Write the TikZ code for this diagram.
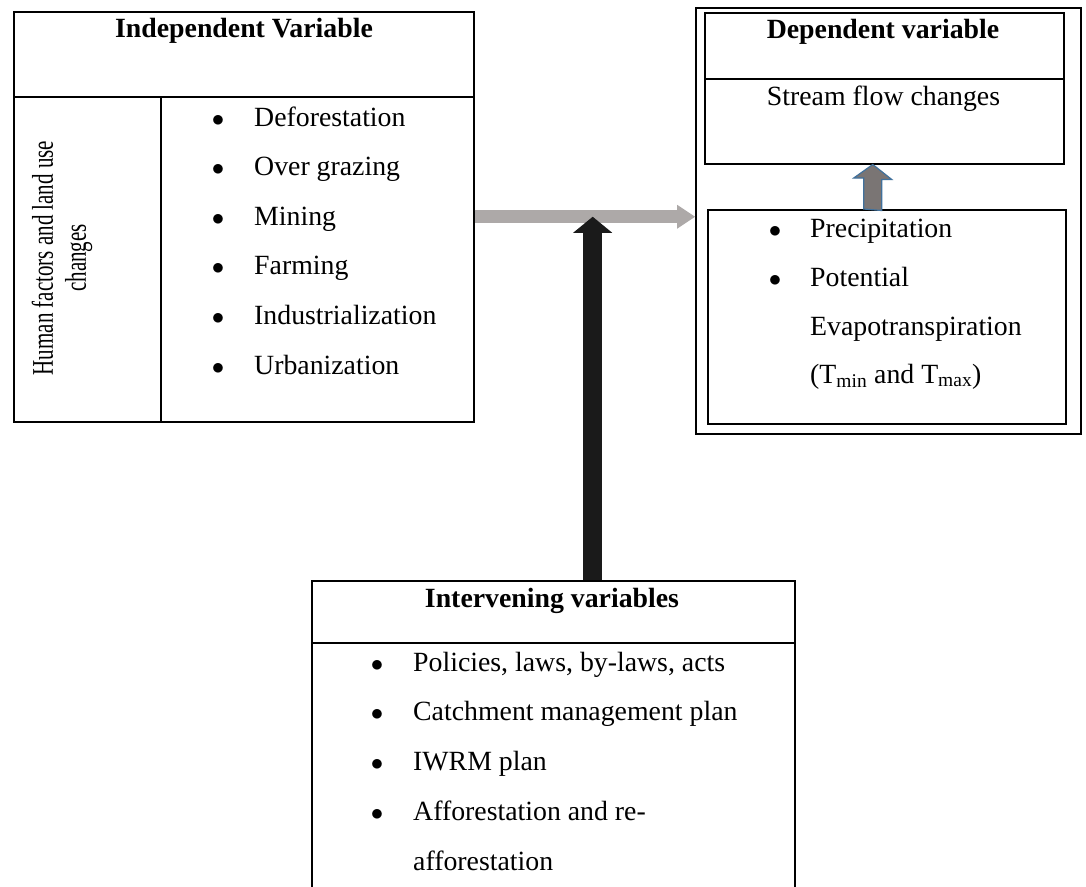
\documentclass[tikz,border=0pt]{standalone}
\usepackage{fontspec}
\setmainfont{Liberation Serif}
\usepackage{graphicx}
\usetikzlibrary{arrows.meta, positioning, calc}
\definecolor{flowgrey}{RGB}{173,169,168}
\definecolor{pushblack}{RGB}{26,26,26}
\definecolor{climgrey}{RGB}{122,117,116}
\definecolor{climblue}{RGB}{65,113,156}
\newcommand{\figsize}{\fontsize{27.8}{33}\selectfont}
\newcommand{\narrowtxt}[1]{\scalebox{0.70}[1]{#1}}
\tikzset{
  frame/.style={draw=black, line width=1.5pt, inner sep=0pt, anchor=north west},
  rule/.style={draw=black, line width=1.5pt},
  title/.style={font=\figsize\bfseries, inner sep=0pt, anchor=base},
  item/.style={inner sep=0pt, anchor=base west},
  dot/.style={inner sep=0pt, anchor=base},
  flowarrow/.style={draw=flowgrey, line width=13pt, -{Triangle[length=18pt, width=24pt, line width=0pt]}},
  pusharrow/.style={draw=pushblack, line width=19pt, -{Triangle[length=16pt, width=39pt, line width=0pt]}},
  climarrow/.style={draw=climblue, fill=climgrey, line width=1.2pt, line join=miter}
}

\begin{document}
\begin{tikzpicture}[x=1pt, y=-1pt, font=\figsize]
  \useasboundingbox (0,0) rectangle (1086,886);
  \clip (0,0) rectangle (1086,886);
  \fill[white] (0,0) rectangle (1086,886);

  % independent variable
  \node[frame, minimum width=460pt, minimum height=410pt] (indep) at (13,11) {};
  \draw[rule] ($(indep.north west)+(0,86)$) coordinate (indhd) -- (indhd -| indep.east);
  \draw[rule] ($(indhd)+(148,0)$) coordinate (indcol) -- (indcol |- indep.south);
  \node[title] (indeptitle) at (244,37) {Independent Variable};
  \node[rotate=90, align=center, inner sep=0pt, font=\fontsize{30}{33}\selectfont] (humantxt) at (62,258)
    {\narrowtxt{Human factors and land use}\\\narrowtxt{changes}};
  \foreach \t [count=\i from 0] in {Deforestation, Over grazing, Mining, Farming, Industrialization, Urbanization} {
    \node[dot] (idot\i) at (218,{126+49.6*\i}) {$\bullet$};
    \node[item] (iitem\i) at (254,{126+49.6*\i}) {\t};
  }

  % dependent variable
  \node[frame, minimum width=385pt, minimum height=426pt] (dep) at (695,7) {};
  \node[frame, minimum width=359pt, minimum height=151pt] (dephd) at (704,12) {};
  \draw[rule] ($(dephd.north west)+(0,67)$) coordinate (dephdl) -- (dephdl -| dephd.east);
  \node[title] (deptitle) at (883,38) {Dependent variable};
  \node[inner sep=0pt, anchor=base] (stream) at (883.5,105) {Stream flow changes};
  \node[frame, minimum width=358pt, minimum height=214pt] (climate) at (707,209) {};
  \node[dot] (cdot0) at (775,237) {$\bullet$};
  \node[item] (citem0) at (810,237) {Precipitation};
  \node[dot] (cdot1) at (775,286) {$\bullet$};
  \node[item] (citem1) at (810,286) {Potential};
  \node[item] (citem2) at (810,335) {Evapotranspiration};
  \node[item] (citem3) at (810,383) {(T\textsubscript{min} and T\textsubscript{max})};

  % intervening variables
  \node[frame, minimum width=483pt, minimum height=330pt] (interv) at (311,580) {};
  \draw[rule] ($(interv.north west)+(0,63)$) coordinate (inthd) -- (inthd -| interv.east);
  \node[title] (intertitle) at (552,607) {Intervening variables};
  \foreach \t [count=\i from 0] in {{Policies, laws, by-laws, acts}, Catchment management plan, IWRM plan, Afforestation and re-} {
    \node[dot] (vdot\i) at (377,{671+49.8*\i}) {$\bullet$};
    \node[item] (vitem\i) at (413,{671+49.8*\i}) {\t};
  }
  \node[item] (vitem4) at (413,870) {afforestation};

  % arrows
  \coordinate (meet) at ($(indep.east)!0.536!(indep.east -| dep.west)$);
  \draw[flowarrow] (indep.east) -- (indep.east -| dep.west);
  \draw[pusharrow] (interv.north -| meet) -- (meet);
  \coordinate (ptip) at ($(dephd.south)+(-11.5,0)$);
  \draw[climarrow] (climate.north -| ptip) ++(-9,0) -- ++(0,-31) -- ++(-10,0) -- (ptip)
    -- ++(19,15) -- ++(-10,0) -- ++(0,31) -- cycle;
\end{tikzpicture}
\end{document}
